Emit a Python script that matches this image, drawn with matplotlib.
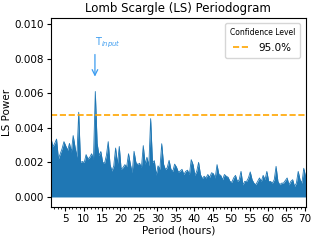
import numpy as np
import matplotlib
matplotlib.use("Agg")
import matplotlib.pyplot as plt
from matplotlib.ticker import MultipleLocator, FormatStrFormatter

power_e3 = [
    3.4, 2.9, 3.1, 3.35, 2.2, 2.5, 2.8, 3.2, 2.95, 2.7,
    3.1, 2.6, 3.55, 2.9, 2.3, 4.9, 2.0, 2.05, 2.0, 2.45,
    2.2, 2.3, 2.5, 2.2, 6.1, 3.1, 2.4, 2.63, 2.0, 1.95,
    2.4, 3.2, 1.87, 1.5, 1.8, 2.83, 1.9, 2.92, 1.6, 1.7,
    1.87, 1.75, 2.5, 1.9, 1.4, 2.64, 2.0, 1.87, 1.95, 1.7,
    2.97, 1.9, 2.3, 1.8, 4.53, 2.0, 2.1, 1.27, 1.8, 1.6,
    3.08, 1.9, 1.58, 1.7, 2.12, 1.6, 1.48, 1.9, 1.73, 1.44,
    1.5, 1.6, 1.3, 1.48, 1.55, 1.3, 2.16, 1.87, 1.25, 1.5,
    2.0, 1.3, 1.06, 1.2, 1.1, 1.3, 1.14, 1.4, 1.35, 1.1,
    1.87, 1.3, 1.25, 1.0, 1.3, 1.2, 1.14, 0.9, 0.85, 1.1,
    1.25, 0.9, 1.0, 1.48, 0.7, 0.9, 0.9, 1.1, 1.45, 1.0,
    0.8, 0.71, 0.9, 1.1, 0.9, 1.25, 1.0, 1.48, 0.9, 0.9,
    0.8, 1.0, 1.77, 0.9, 0.71, 0.8, 0.8, 0.95, 1.1, 0.7,
    0.9, 1.0, 0.61, 0.8, 1.48, 1.0, 0.8, 1.66, 1.2,
]
conf_level = 0.00474
conf_label = "95.0%"
t_input = 13.1

power = np.array(power_e3) * 1e-3
periods = 1.2 + 0.5 * np.arange(len(power))

fig = plt.figure(figsize=(3.17, 2.4), dpi=100)
ax = fig.add_axes([0.161, 0.1375, 0.803, 0.7875])

ax.fill_between(periods, 0, power, color="#1f77b4", lw=0)
ax.plot(periods, power, color="#1f77b4", lw=0.6)
ax.axhline(conf_level, color="orange", ls="--", lw=1.2, label=conf_label)

ax.annotate("", xy=(t_input, 0.0068), xytext=(t_input, 0.0084),
            arrowprops=dict(arrowstyle="->", color="#3b9cf0", lw=0.9))
ax.text(t_input, 0.0085, "T$_{input}$", color="#3b9cf0", fontsize=7,
        ha="left", va="bottom")

ax.set_xlim(1.2, 70.2)
ax.set_ylim(-0.00058, 0.01035)
ax.xaxis.set_major_locator(MultipleLocator(5))
ax.xaxis.set_minor_locator(MultipleLocator(1))
ax.yaxis.set_major_locator(MultipleLocator(0.002))
ax.yaxis.set_major_formatter(FormatStrFormatter("%.3f"))
ax.tick_params(labelsize=7.5, length=3, pad=2)
ax.tick_params(which="minor", length=1.5)
ax.set_xlabel("Period (hours)", fontsize=7.5, labelpad=1)
ax.set_ylabel("LS Power", fontsize=7.5, labelpad=2)
ax.set_title("Lomb Scargle (LS) Periodogram", fontsize=8.5, pad=4)

leg = ax.legend(title="Confidence Level", loc="upper right", fontsize=7.5,
                title_fontsize=5.5, handlelength=1.6, borderpad=0.5)

fig.savefig("out.png", dpi=100)
